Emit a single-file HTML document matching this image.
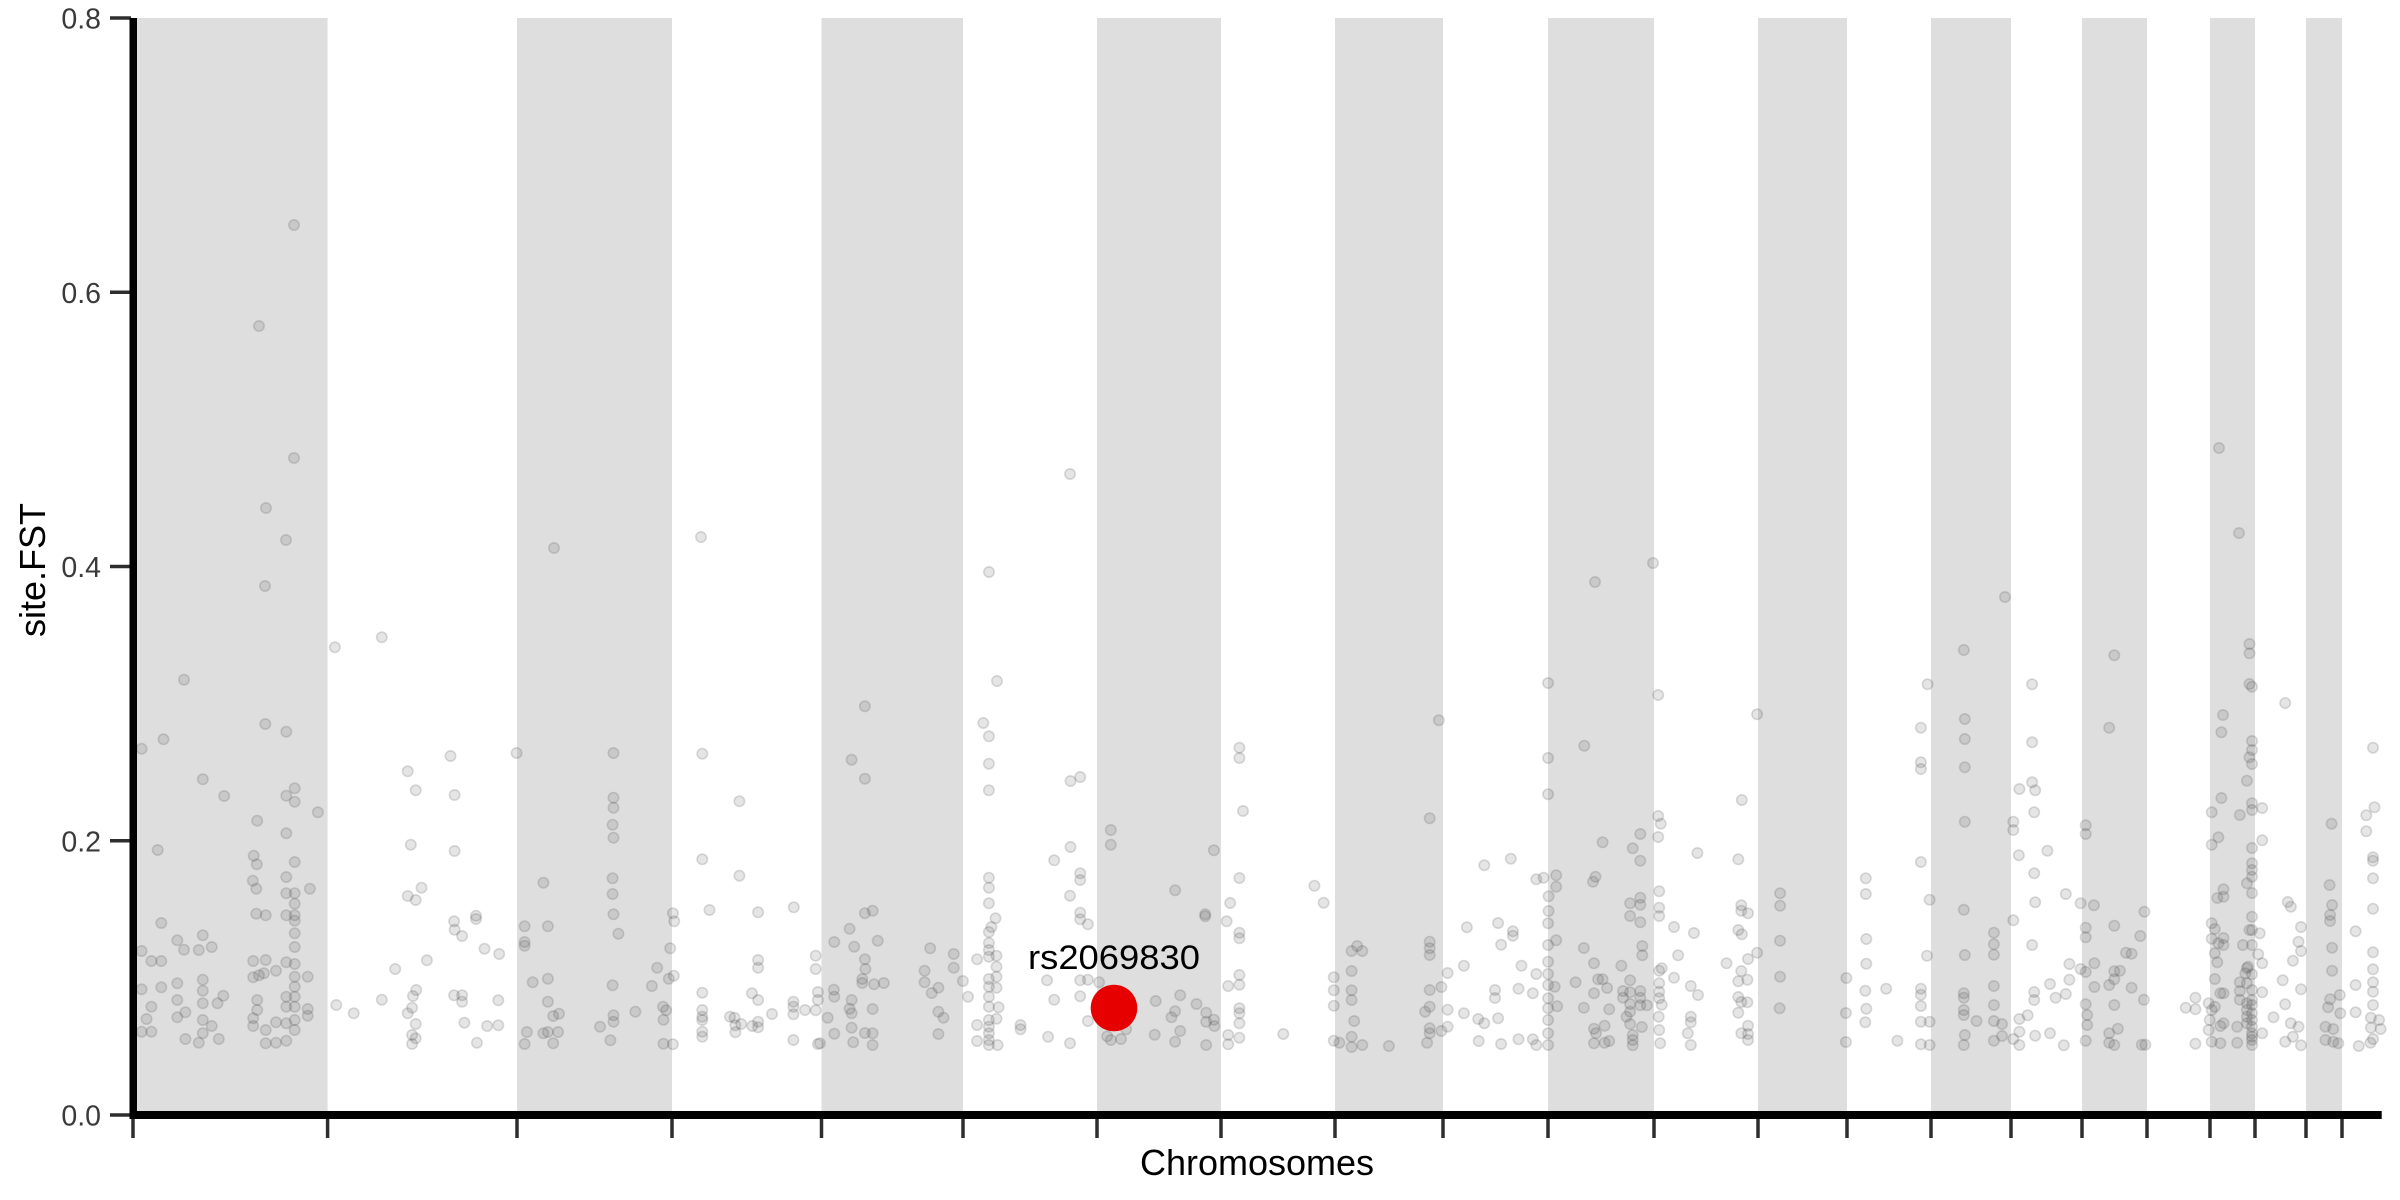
<!DOCTYPE html>
<html><head><meta charset="utf-8"><style>
html,body{margin:0;padding:0;background:#fff;}
svg{display:block;}
text{font-family:"Liberation Sans",Arial,sans-serif;}
</style></head><body>
<svg id="s" xmlns="http://www.w3.org/2000/svg" width="2400" height="1200" viewBox="0 0 2400 1200">
<rect x="0" y="0" width="2400" height="1200" fill="#fff"/>
<g fill="#dedede">
<rect x="130" y="18" width="197.6" height="1093"/>
<rect x="517" y="18" width="155" height="1093"/>
<rect x="821.5" y="18" width="141.5" height="1093"/>
<rect x="1097" y="18" width="124" height="1093"/>
<rect x="1335" y="18" width="108" height="1093"/>
<rect x="1548" y="18" width="106" height="1093"/>
<rect x="1758" y="18" width="89" height="1093"/>
<rect x="1931" y="18" width="80" height="1093"/>
<rect x="2082" y="18" width="65" height="1093"/>
<rect x="2210" y="18" width="45" height="1093"/>
<rect x="2306" y="18" width="36" height="1093"/>
</g>
<g id="pts" fill="rgba(80,80,80,0.15)" stroke="rgba(80,80,80,0.2)" stroke-width="1.6"></g>
<circle cx="1114" cy="1008" r="23.3" fill="#e60000"/>
<text x="1114" y="969" font-size="34" text-anchor="middle" fill="#000" textLength="172" lengthAdjust="spacingAndGlyphs">rs2069830</text>
<g stroke="#2e2e2e" stroke-width="3.5" id="xt"></g>
<g stroke="#2e2e2e" stroke-width="3.5">
<line x1="110" y1="1115" x2="131" y2="1115"/>
<line x1="110" y1="840.75" x2="131" y2="840.75"/>
<line x1="110" y1="566.5" x2="131" y2="566.5"/>
<line x1="110" y1="292.25" x2="131" y2="292.25"/>
<line x1="110" y1="18" x2="131" y2="18"/>
</g>
<rect x="129.5" y="18" width="7.5" height="1101" fill="#000"/>
<rect x="129.5" y="1111" width="2252.2" height="8" fill="#000"/>
<g font-size="28.5" fill="#3a3a3a" text-anchor="end">
<text x="101" y="1125.5">0.0</text>
<text x="101" y="851.25">0.2</text>
<text x="101" y="577">0.4</text>
<text x="101" y="302.75">0.6</text>
<text x="101" y="28.5">0.8</text>
</g>
<text x="1257" y="1175" font-size="36" text-anchor="middle" fill="#000">Chromosomes</text>
<text transform="translate(45,570) rotate(-90)" font-size="36" text-anchor="middle" fill="#000">site.FST</text>
</svg>
<script>
(function(){
var NS="http://www.w3.org/2000/svg";
var xt=document.getElementById('xt');
var ticks=[133,327.6,517,672,821.5,963,1097,1221,1335,1443,1548,1654,1758,1847,1931,2011,2082,2147,2210,2255,2306,2342];
ticks.forEach(function(x){var l=document.createElementNS(NS,'line');l.setAttribute('x1',x);l.setAttribute('x2',x);l.setAttribute('y1',1117);l.setAttribute('y2',1138);xt.appendChild(l);});
var g=document.getElementById('pts');
function add(x,y){var c=document.createElementNS(NS,'circle');c.setAttribute('cx',x.toFixed(1));c.setAttribute('cy',y.toFixed(1));c.setAttribute('r','5.2');g.appendChild(c);}
var up=[294,225,259,326,294,458,266,508,286,540,265,586,554,548,701,537,1070,474,989,572,1595,582,1653,563,2219,448,2239,533,2005,597];
for(var i=0;i<up.length;i+=2)add(up[i],up[i+1]);
var z7=[26,386,75,358,121,179,303,312,350,335,459,82,564,52,622,454,640,511,718,408,727,525,866,399,1083,399,1282,401,163,478,211,528,350,527,369,505,369,545,421,577,285,602,350,640,629,674,727,693,1083,533,1083,563,1081,614,1083,653,1365,544,62,690,277,707,284,733,369,726,275,782,283,806,350,771,403,806,350,820,369,820,369,851,283,881,304,886,350,886,369,886,369,902,369,940,369,981,653,803,622,828,640,840,926,788,1081,775,1081,822,1083,883,1094,941,1216,880,1219,904,1282,718,1365,767,1298,870,1407,877,1487,862,70,909,163,946,106,961,121,989,154,990,183,981,26,993,48,1023,70,1023,276,1023,304,1020,350,1027,369,1032,726,904,727,929,744,948,775,887,775,897,794,986,827,1002,884,919,936,919,884,966,884,977,1210,985,1407,1020,1407,1043,1536,1007,1536,1047,665,1021,594,1047,26,1108,70,1102,106,1090,106,1140,163,1079,163,1112,163,1150,209,1127,196,1150,276,1072,285,1140,289,1066,300,1060,327,1052,398,1070,369,1070,369,1100,369,1130,350,1130,350,1160,369,1160,369,1200,369,1230,350,1210,327,1207,398,1167,398,1187,37,1197,48,1160,124,1177,106,1192,163,1200,183,1218,163,1240,154,1268,124,1257,199,1257,276,1195,276,1218,304,1230,304,1270,327,1268,350,1262,26,1235,48,1235,285,1170,462,1155,501,1180,564,1139,634,1128,641,1110,632,1163,622,1180,640,1212,632,1245,640,1255,632,1272,726,1126,744,1126,744,1145,825,1141,749,1208,800,1218,825,1216,777,1268,902,1087,936,1076,936,1145,948,1188,961,1181,889,1236,926,1240,936,1236,959,1236,884,1272,948,1270,1081,1096,1083,1186,1083,1205,1053,1220,1076,1261,1132,1175,1169,1098,1181,1043,1207,1076,1218,1067,1194,1160,1201,1171,1195,1199,1195,1271,1216,1273,1282,1118,1282,1170,1282,1190,1282,1200,1282,1235,1282,1250,1344,1190,1354,1193,1356,1216,1356,1237,1369,1212,1393,1120,1407,1140,1394,1218,1407,1205,1407,1222,1438,1182,1486,1145,1486,1160,1486,1183,1486,1260,1512,1170,1536,1171,1541,1116,1541,1140,1541,1272];
for(i=0;i<z7.length;i+=2)add(130+z7[i]/2.24,620+z7[i+1]/3);
var z8=[88,259,347,183,62,419,88,476,320,309,331,349,331,431,331,511,491,483,510,471,822,383,822,414,829,573,1213,301,1427,189,1427,414,1427,523,1498,377,1195,595,570,630,570,674,491,681,459,721,772,691,1302,736,1354,716,331,773,331,803,331,850,344,895,336,921,331,936,331,969,510,760,510,780,490,827,510,878,510,898,525,913,696,811,755,883,755,889,822,774,804,849,797,904,822,938,822,955,969,797,987,848,1404,778,1418,773,1443,766,1443,800,1428,829,1428,873,1427,910,1443,961,1520,770,1515,785,1268,922,1329,909,1358,934,1358,947,1335,974,88,880,103,872,58,926,28,966,67,980,113,962,216,985,262,1002,262,1043,205,1052,205,1087,88,1018,89,1047,83,1077,83,1089,106,1093,125,1089,27,1109,28,1130,62,1140,58,1166,62,1180,15,1193,103,1167,62,1223,28,1241,88,1239,103,1240,65,1267,103,1275,0,1270,232,1175,242,1193,232,1242,219,1119,232,1103,280,1083,290,1130,308,1018,331,990,331,1010,331,1077,331,1100,331,1130,331,1160,331,1200,331,1220,331,1240,331,1260,331,1275,346,1007,346,1040,346,1070,346,1103,350,1162,346,1196,348,1275,308,1215,308,1263,393,1215,393,1228,445,1081,459,1139,447,1250,490,1270,510,1081,525,1079,510,1129,525,1203,547,1087,563,1249,570,1260,590,1257,600,1228,658,1143,656,1244,696,1174,696,1265,706,1126,706,1233,689,1192,738,1152,757,1178,757,1205,772,1199,773,1218,757,1275,800,1098,822,1065,822,1094,822,1165,822,1180,822,1210,822,1253,800,1245,800,1273,908,1242,1007,1072,1007,1111,1007,1157,1007,1262,1042,993,1053,978,1063,993,1042,1053,1042,1111,1042,1140,1047,1203,1042,1250,1042,1281,1063,1275,1018,1268,1115,1278,1195,965,1195,985,1195,1005,1195,1110,1195,1160,1186,1175,1195,1225,1195,1240,1218,1233,1230,1059,1218,1101,1230,1169,1230,1220,1190,1268,1262,1037,1262,1180,1290,1197,1302,1210,1329,1195,1323,1110,1323,1134,1369,1106,1375,1037,1397,1120,1404,1062,1291,1263,1335,1272,1369,1258,1397,1258,1404,1275,1427,975,1427,1025,1427,1062,1427,1095,1427,1135,1427,1165,1427,1200,1427,1240,1427,1275,1440,1100,1445,1159,1481,1087,1497,984,1517,1030,1525,1078,1517,1120,1497,1163,1517,1226,1521,1240,1517,1270];
for(i=0;i<z8.length;i+=2)add(820+z8[i]/1.96,620+z8[i+1]/3);
var z9=[713,90,1008,106,1273,72,1273,100,642,193,847,193,1273,192,1278,200,1343,249,114,225,308,283,629,323,715,297,715,357,998,323,1221,285,1218,337,629,427,629,447,715,442,847,367,1278,363,1278,390,1273,412,1278,432,1515,383,1268,482,847,487,822,507,853,511,851,577,715,605,278,540,114,588,119,611,114,651,5,667,79,642,64,685,79,722,191,699,271,718,629,726,810,605,810,630,821,706,877,692,1218,534,1199,577,1254,585,1278,550,1278,570,1298,564,1212,652,1199,674,1278,684,1298,661,1518,562,1502,586,1502,634,1515,712,1515,722,1515,775,1434,611,952,616,952,642,521,775,521,822,646,839,851,760,853,847,913,822,942,850,968,856,1278,730,1278,750,1278,770,1268,790,1278,819,1222,808,1210,834,1222,830,1430,795,1435,855,1431,885,1431,903,1515,866,59,850,79,833,79,854,59,888,79,907,116,814,116,863,116,888,145,921,184,939,277,856,277,872,290,880,271,930,278,943,353,820,353,857,353,962,83,978,83,1006,153,1006,42,1037,59,1081,5,1078,14,1104,45,1113,45,1133,59,1117,79,1113,79,1133,59,1152,79,1156,92,1156,18,1168,59,1175,52,1190,59,1212,82,1221,9,1217,9,1268,18,1263,64,1245,64,1260,64,1276,116,1052,121,1045,116,1090,116,1115,116,1135,121,1154,115,1190,116,1230,118,1270,145,1073,178,1098,192,1125,178,1190,178,1207,172,1240,178,1275,248,1030,290,1017,308,998,277,1053,271,1084,289,1079,271,1131,277,1146,289,1147,271,1178,290,1217,277,1240,290,1242,290,1260,353,1070,352,1165,522,957,522,1031,483,1074,520,1112,561,1106,522,1166,520,1207,482,1179,482,1266,583,1262,629,1106,629,1124,629,1158,629,1205,646,1205,629,1273,646,1275,641,1007,713,869,772,938,772,973,772,1004,715,1005,772,1098,772,1155,772,1203,713,1120,713,1133,713,1170,713,1185,715,1245,713,1275,738,1203,788,1212,772,1262,810,901,788,1248,822,1197,838,1186,851,1116,851,1140,853,1247,822,1235,810,1257,822,1275,847,975,882,1092,882,1240,893,1133,909,1276,913,1122,920,1032,920,1079,942,1047,952,923,952,952,952,1056,952,1153,955,1185,955,1215,952,1262,969,1030,969,1101,998,1095,998,1240,1008,917,1008,1054,1008,1078,1019,1052,1008,1155,1015,1226,1008,1275,998,1268,1031,998,1042,1001,1042,1103,1059,948,1067,875,1066,1139,1062,1274,1069,1274,1148,1163,1167,1133,1167,1168,1167,1271,1193,1150,1199,910,1205,927,1212,970,1205,1000,1210,1027,1199,956,1222,954,1222,975,1205,1077,1216,1120,1222,1120,1195,1200,1199,1170,1205,1160,1216,1218,1222,1210,1193,1230,1199,1265,1216,1270,1254,1087,1254,1113,1254,1139,1260,975,1249,1220,1249,1268,1268,1045,1278,1063,1268,1090,1278,1110,1278,1140,1278,1155,1268,1190,1278,1200,1278,1220,1278,1240,1278,1260,1278,1275,1278,890,1278,930,1278,975,1273,930,1293,940,1290,1003,1298,1030,1298,1117,1298,1240,1320,1192,1338,1081,1343,1153,1348,846,1354,860,1374,921,1369,965,1374,993,1358,1022,1374,1108,1354,1210,1369,1220,1358,1250,1343,1265,1374,1276,1435,983,1435,1052,1431,1138,1450,1125,1451,1180,1427,1162,1422,1220,1437,1227,1422,1260,1437,1265,1447,1270,1481,934,1481,1095,1481,1177,1515,997,1515,1048,1515,1087,1515,1115,1515,1155,1511,1193,1511,1223,1515,1257,1510,1268,1487,1278,1527,1200,1530,1227,1268,1150,1268,1170,1278,1180,1268,1210,1278,1250,1270,1040,1265,1060];
for(i=0;i<z9.length;i+=2)add(1600+z9[i]/1.96,620+z9[i+1]/3);
})();
</script>
</body></html>
